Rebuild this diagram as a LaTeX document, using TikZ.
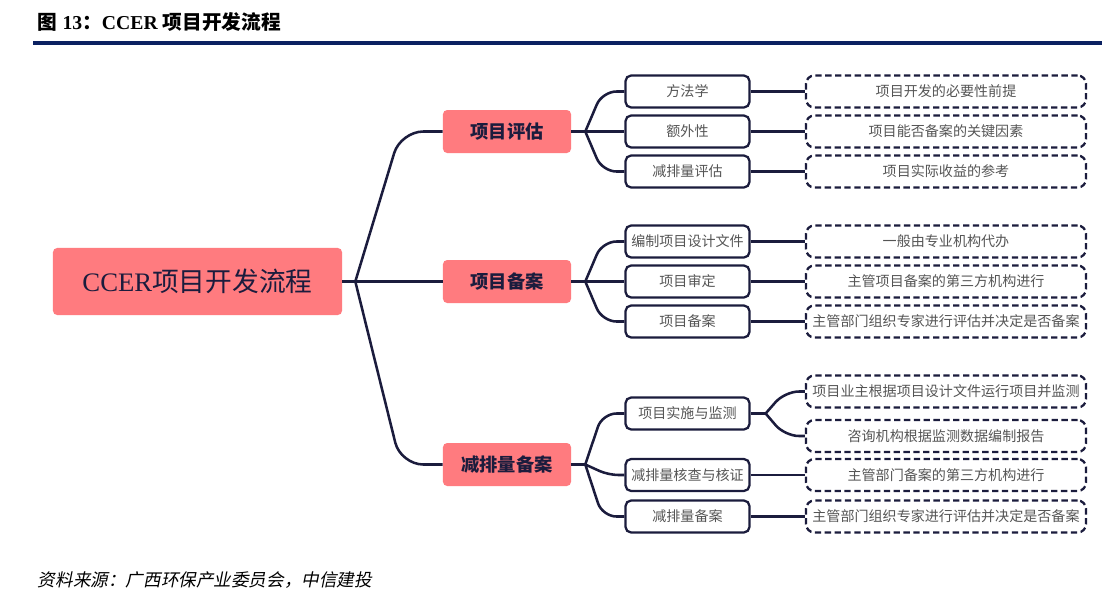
\documentclass[tikz,border=0pt]{standalone}
\usepackage{fontspec}
\setmainfont{Liberation Serif}
\newfontfamily\cjk{Noto Sans CJK SC}
\newfontfamily\cjkslant[FakeSlant=0.2]{Noto Sans CJK SC}
\usepackage{tikz}
\usetikzlibrary{positioning,calc}
\usepackage{xcolor}
\definecolor{rosebox}{HTML}{FF7B7F}
\definecolor{inkblue}{HTML}{1B1C3D}
\definecolor{barblue}{HTML}{0B2161}
\definecolor{textgrey}{HTML}{555555}

\begin{document}
\begin{tikzpicture}[
    x=0.025cm, y=-0.025cm,
    rootbox/.style={fill=rosebox, rounded corners=3pt, minimum width=7.225cm,
                    minimum height=1.675cm, text=inkblue,
                    font=\fontsize{19}{22}\selectfont},
    topic/.style={fill=rosebox, rounded corners=3pt, minimum width=3.2cm,
                  minimum height=1.075cm, text=inkblue,
                  font=\cjk\bfseries\fontsize{13}{15}\selectfont},
    item/.style={draw=inkblue, line width=1.6pt, fill=white, rounded corners=4pt,
                 minimum width=3.1cm, minimum height=0.8cm, inner sep=1pt,
                 text=textgrey, font=\cjk\fontsize{10}{12}\selectfont},
    leaf/.style={item, dash pattern=on 4.5pt off 2.5pt, minimum width=7.0cm,
                 rounded corners=6pt},
    link/.style={draw=inkblue, line width=1.8pt, rounded corners=10pt}
  ]
  \path[fill=white, use as bounding box] (0,0) rectangle (1120,601);

  % title and rule
  \node[anchor=west, font=\bfseries\fontsize{14}{16}\selectfont] (title) at (33,22)
    {{\cjk 图} 13{\cjk ：}CCER {\cjk 项目开发流程}};
  \draw[barblue, line width=3pt] (33,43) -- (1102,43);

  % root and first level
  \node[rootbox] (root) at (197.5,281.5) {CCER{\cjk 项目开发流程}};
  \node[topic] (assess) at (507,131.5) {项目评估};
  \node[topic] (record) at (507,281.5) {项目备案};
  \node[topic] (cut) at (507,464.5) {减排量备案};

  % second level
  \node[item] (method) at (687.5,91.5) {方法学};
  \node[item] (extra) at (687.5,131.5) {额外性};
  \node[item] (estim) at (687.5,171.5) {减排量评估};
  \node[item] (design) at (687.5,241.5) {编制项目设计文件};
  \node[item] (audit) at (687.5,281.5) {项目审定};
  \node[item] (reg) at (687.5,321.5) {项目备案};
  \node[item] (monitor) at (687.5,413.5) {项目实施与监测};
  \node[item] (verify) at (687.5,475) {减排量核查与核证};
  \node[item] (issue) at (687.5,516.5) {减排量备案};

  % third level
  \node[leaf] (n1) at (946,91.5) {项目开发的必要性前提};
  \node[leaf] (n2) at (946,131.5) {项目能否备案的关键因素};
  \node[leaf] (n3) at (946,171.5) {项目实际收益的参考};
  \node[leaf] (n4) at (946,241.5) {一般由专业机构代办};
  \node[leaf] (n5) at (946,281.5) {主管项目备案的第三方机构进行};
  \node[leaf] (n6) at (946,321.5) {主管部门组织专家进行评估并决定是否备案};
  \node[leaf] (n7) at (946,391.5) {项目业主根据项目设计文件运行项目并监测};
  \node[leaf] (n8) at (946,436) {咨询机构根据监测数据编制报告};
  \node[leaf] (n9) at (946,475) {主管部门备案的第三方机构进行};
  \node[leaf] (n10) at (946,516.5) {主管部门组织专家进行评估并决定是否备案};

  % junctions
  \coordinate (jroot) at ($(root.east)+(13,0)$);
  \coordinate (ja) at ($(assess.east)+(14,0)$);
  \coordinate (jb) at ($(record.east)+(14,0)$);
  \coordinate (jc) at ($(cut.east)+(14,0)$);
  \coordinate (jm) at ($(monitor.east)+(15,0)$);

  % root to topics
  \draw[link] (root.east) -- (jroot);
  \draw[link, rounded corners=16pt] (jroot) -- ($(assess.west)+(-42,0)$) -- (assess.west);
  \draw[link] (jroot) -- (record.west);
  \draw[link, rounded corners=16pt] (jroot) -- ($(cut.west)+(-42,0)$) -- (cut.west);

  % topics to items
  \draw[link] (assess.east) -- (ja);
  \draw[link] (ja) -- ($(method.west)+(-22,0)$) -- (method.west);
  \draw[link] (ja) -- (extra.west);
  \draw[link] (ja) -- ($(estim.west)+(-22,0)$) -- (estim.west);
  \draw[link] (record.east) -- (jb);
  \draw[link] (jb) -- ($(design.west)+(-22,0)$) -- (design.west);
  \draw[link] (jb) -- (audit.west);
  \draw[link] (jb) -- ($(reg.west)+(-22,0)$) -- (reg.west);
  \draw[link] (cut.east) -- (jc);
  \draw[link] (jc) -- ($(monitor.west)+(-22,0)$) -- (monitor.west);
  \draw[link, rounded corners=7pt] (jc) -- ($(verify.west)+(-16,0)$) -- (verify.west);
  \draw[link] (jc) -- ($(issue.west)+(-22,0)$) -- (issue.west);

  % items to notes
  \draw[link] (method) -- (n1);
  \draw[link] (extra) -- (n2);
  \draw[link] (estim) -- (n3);
  \draw[link] (design) -- (n4);
  \draw[link] (audit) -- (n5);
  \draw[link] (reg) -- (n6);
  \draw[link] (monitor.east) -- (jm);
  \draw[link] (jm) -- ($(n7.west)+(-20,0)$) -- (n7.west);
  \draw[link] (jm) -- ($(n8.west)+(-20,0)$) -- (n8.west);
  \draw[link] (verify) -- (n9);
  \draw[link] (issue) -- (n10);

  % source line
  \node[anchor=west, font=\cjkslant\fontsize{12.5}{15}\selectfont] (source) at (33,580)
    {资料来源：广西环保产业委员会，中信建投};
\end{tikzpicture}
\end{document}
